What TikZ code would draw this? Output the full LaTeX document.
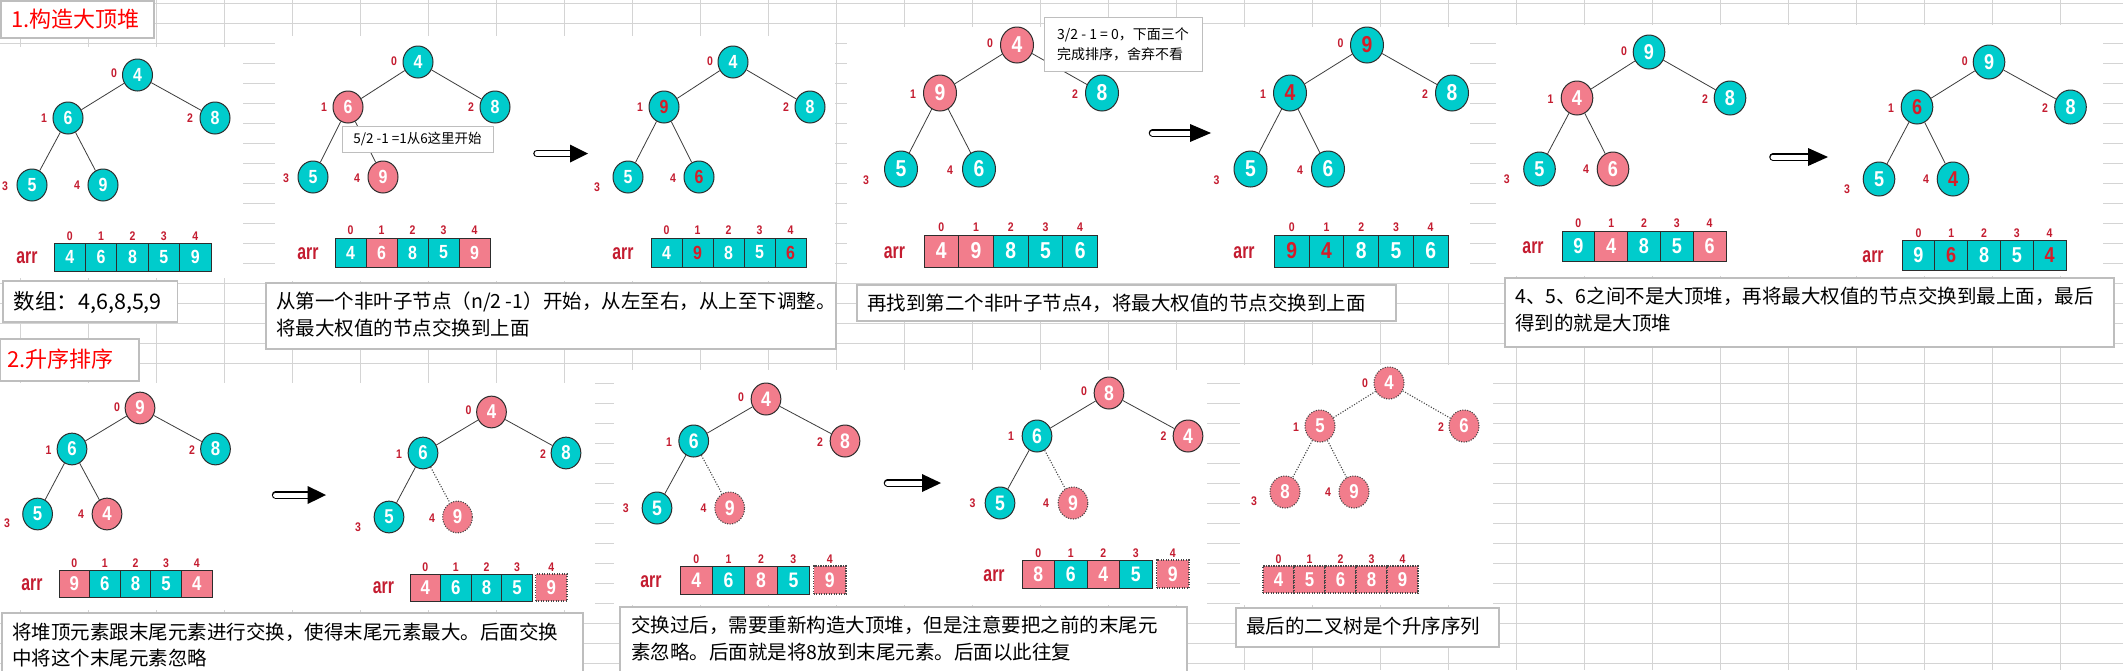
\documentclass[tikz,border=0pt]{standalone}
\usepackage{fontspec}
\setmainfont{Noto Sans CJK SC}
\newfontfamily\digfam{Liberation Sans}[FakeStretch=0.84]
\newfontfamily\arrfam{Liberation Sans}[FakeStretch=0.72]
\usetikzlibrary{shapes.geometric}
\definecolor{gridc}{RGB}{212,212,212}
\definecolor{tealc}{RGB}{0,204,204}
\definecolor{pinkc}{RGB}{242,125,140}
\definecolor{idxred}{RGB}{196,28,48}
\definecolor{digred}{RGB}{214,28,40}
\definecolor{boxgray}{RGB}{190,190,190}
\definecolor{nodeline}{RGB}{45,45,45}
\definecolor{edgec}{RGB}{60,60,60}
\definecolor{dotline}{RGB}{70,70,70}
\newcommand\digfont{\digfam\bfseries\fontsize{\dsz}{\dsz}\selectfont}
\def\nw{30pt}\def\nh{32pt}\def\dsz{19pt}\def\ch{28pt}
\tikzset{
  st/.code={\expandafter\pgfkeysalso\expandafter{#1}},
  gridline/.style={draw=gridc, line width=1pt},
  nbase/.style={ellipse, draw=nodeline, line width=1pt, inner sep=0pt,
    minimum width=\nw, minimum height=\nh, text=white, font=\digfont},
  nT/.style={nbase, fill=tealc},
  nTr/.style={nbase, fill=tealc, text=digred},
  nP/.style={nbase, fill=pinkc},
  nPd/.style={nbase, fill=pinkc, draw=dotline, line width=1.1pt, dash pattern=on 1.1pt off 1.4pt},
  cell/.style={rectangle, draw=nodeline, line width=1pt, inner sep=0pt,
    minimum height=\ch, text=white, font=\digfont},
  cT/.style={fill=tealc},
  cTr/.style={fill=tealc, text=digred},
  cP/.style={fill=pinkc},
  cPd/.style={fill=pinkc, draw=dotline, line width=1.1pt, dash pattern=on 1.1pt off 1.4pt},
  idx/.style={text=idxred, inner sep=0pt, font=\digfam\bfseries\fontsize{12.5pt}{12.5pt}\selectfont},
  arrlab/.style={text=idxred, inner sep=0pt, font=\arrfam\bfseries\fontsize{22pt}{22pt}\selectfont},
  edge/.style={draw=edgec, line width=0.8pt},
  edged/.style={draw=dotline, line width=1.1pt, dash pattern=on 1.1pt off 1.6pt},
  capbox/.style={draw=boxgray, line width=1.2pt, fill=white},
  titlebox/.style={draw=boxgray, line width=1.2pt, fill=white},
  captext/.style={anchor=west, inner sep=0pt, text=black, font=\fontsize{19.5pt}{19.5pt}\selectfont},
  titletext/.style={anchor=west, inner sep=0pt, text=red, font=\fontsize{22pt}{22pt}\selectfont},
  callout/.style={draw=boxgray, line width=1pt, fill=white, inner sep=0pt, text=black},
  imgbg/.style={fill=white},
}
% prefix, node list, label list
\newcommand\heaptree[3]{%
  \foreach \n/\px/\py/\s/\v in {#2} {\node[st=\s] (#1\n) at (\px,\py) {\v};}%
  \foreach \n/\px/\py in {#3} {\node[idx] (#1l\n) at (\px,\py) {\n};}%
}
% prefix, x0, cell width, y centre, y index, list value/style
\newcommand\cellrow[6]{%
  \foreach \v/\s [count=\i from 0] in {#6} {%
    \node[cell, st=\s, minimum width=#3pt] (#1c\i) at ({#2+(\i+0.5)*#3}, #4) {\v};
    \node[idx] (#1i\i) at ({#2+(\i+0.5)*#3}, #5) {\i};
  }%
}
% name, tail x, head base x, tip x, y
\newcommand\fatarrow[5]{%
  \coordinate (#1t) at (#2,#5);
  \coordinate (#1b) at (#3,#5);
  \coordinate (#1h) at (#4,#5);
  \draw[line width=1.3pt, double=white, double distance=5pt, line cap=round] (#1t) -- (#1b);
  \fill[black] ([yshift=9pt]#1b) -- (#1h) -- ([yshift=-9pt]#1b) -- cycle;
}
\begin{document}
\begin{tikzpicture}[x=1pt, y=-1pt]
\useasboundingbox (0,0) rectangle (2123,670);
\clip (0,0) rectangle (2123,670);
\fill[white] (0,0) rectangle (2123,670);
% spreadsheet grid
\foreach \k in {0,...,31} {\draw[gridline] ({20.3+68*\k},0) -- ({20.3+68*\k},670);}
\foreach \k in {0,...,33} {\draw[gridline] (0,{3.3+20*\k}) -- (2123,{3.3+20*\k});}
% pasted picture backgrounds
\fill[imgbg] (0,47) rectangle (243,278);
\fill[imgbg] (275,36) rectangle (835,281);
\fill[imgbg] (847,27) rectangle (1470,283);
\fill[imgbg] (1496,25) rectangle (2103,276);
\fill[imgbg] (0,383) rectangle (595,610);
\fill[imgbg] (614,370) rectangle (1207,605);
\fill[imgbg] (1240,365) rectangle (1493,605);
% titles
\draw[titlebox] (1,1) rectangle (154,38);
\node[titletext] (title1) at (11,19) {1.构造大顶堆};
\draw[titlebox] (0,339) rectangle (139,381);
\node[titletext] (title2) at (7,359) {2.升序排序};

% ---------- panel 1 / 2 ----------
\begin{scope}
\def\nw{30pt}\def\nh{32pt}\def\dsz{19pt}\def\ch{28pt}
\heaptree{A}{0/137.5/75/nT/4, 1/68/118/nT/6, 2/215/118/nT/8, 3/32/185/nT/5, 4/103/185/nT/9}
  {0/114/73, 1/44/118, 2/190/118, 3/5/186, 4/77/185}
\draw[edge] (A0)--(A1) (A0)--(A2) (A1)--(A3) (A1)--(A4);
\node[arrlab] (Aarr) at (27,258) {arr};
\cellrow{A}{54}{31.4}{257}{236}{4/cT,6/cT,8/cT,5/cT,9/cT}

\def\ch{29pt}
\heaptree{B}{0/418/62/nT/4, 1/348/107/nP/6, 2/495/107/nT/8, 3/313/177/nT/5, 4/383/177/nP/9}
  {0/394/61, 1/324/107, 2/471/107, 3/286/178, 4/357/178}
\draw[edge] (B0)--(B1) (B0)--(B2) (B1)--(B3) (B1)--(B4);
\node[callout, minimum width=151pt, minimum height=26pt, font=\fontsize{13.5pt}{13.5pt}\selectfont] (Bnote) at (417.5,139) {5/2 -1 =1从6这里开始};
\node[arrlab] (Barr) at (308,254) {arr};
\cellrow{B}{335}{31}{252.5}{230}{4/cT,6/cP,8/cT,5/cT,9/cP}

\fatarrow{arA}{537}{570}{588}{153.5}

\heaptree{C}{0/733/62/nT/4, 1/664/107/nTr/9, 2/810/107/nT/8, 3/628/177/nT/5, 4/699/177/nTr/6}
  {0/710/61, 1/640/107, 2/786/107, 3/597/187, 4/673/178}
\draw[edge] (C0)--(C1) (C0)--(C2) (C1)--(C3) (C1)--(C4);
\node[arrlab] (Carr) at (623,254) {arr};
\cellrow{C}{651}{31}{252.5}{230}{4/cT,9/cTr,8/cT,5/cT,6/cTr}
\end{scope}

% ---------- panel 3 ----------
\begin{scope}
\def\nw{33pt}\def\nh{36pt}\def\dsz{23pt}\def\ch{32pt}
\heaptree{D}{0/1017/45/nP/4, 1/940/93/nP/9, 2/1102/93/nT/8, 3/901/169/nT/5, 4/979/169/nT/6}
  {0/990/43, 1/913/94, 2/1075/94, 3/866/180, 4/950/170}
\draw[edge] (D0)--(D1) (D0)--(D2) (D1)--(D3) (D1)--(D4);
\node[callout, minimum width=158pt, minimum height=54pt, align=left, font=\fontsize{14pt}{20pt}\selectfont] (Dnote) at (1123,44) {3/2 - 1 = 0，下面三个\\完成排序，舍弃不看};
\node[arrlab] (Darr) at (894.5,253) {arr};
\cellrow{D}{924}{34.7}{251}{227}{4/cP,9/cP,8/cT,5/cT,6/cT}

\fatarrow{arB}{1152.5}{1190}{1211}{133}

\heaptree{E}{0/1367/45/nTr/9, 1/1290/93/nTr/4, 2/1452/93/nT/8, 3/1250.5/169/nT/5, 4/1328/169/nT/6}
  {0/1340.6/43, 1/1263/94, 2/1425/94, 3/1216.5/180, 4/1300/170}
\draw[edge] (E0)--(E1) (E0)--(E2) (E1)--(E3) (E1)--(E4);
\node[arrlab] (Earr) at (1244,253) {arr};
\cellrow{E}{1274.5}{34.7}{251}{227}{9/cTr,4/cTr,8/cT,5/cT,6/cT}
\end{scope}

% ---------- panel 4 ----------
\begin{scope}
\def\nw{31.6pt}\def\nh{34pt}\def\dsz{21.5pt}\def\ch{30pt}
\heaptree{F}{0/1649/52/nT/9, 1/1577/98/nP/4, 2/1730/98/nT/8, 3/1539.5/169/nT/5, 4/1613/169/nP/6}
  {0/1624/51, 1/1550.5/99, 2/1705/99, 3/1506.7/179, 4/1586/169}
\draw[edge] (F0)--(F1) (F0)--(F2) (F1)--(F3) (F1)--(F4);
\node[arrlab] (Farr) at (1533,248) {arr};
\cellrow{F}{1562}{32.8}{246}{223}{9/cT,4/cP,8/cT,5/cT,6/cP}

\fatarrow{arC}{1773}{1808}{1828}{157}

\heaptree{G}{0/1989/62/nT/9, 1/1917/107/nTr/6, 2/2070.5/107/nT/8, 3/1879/179/nT/5, 4/1953/179/nTr/4}
  {0/1964.7/61, 1/1891/108, 2/2045/108, 3/1847/189, 4/1926/179}
\draw[edge] (G0)--(G1) (G0)--(G2) (G1)--(G3) (G1)--(G4);
\node[arrlab] (Garr) at (1873,257) {arr};
\cellrow{G}{1902}{32.8}{255.5}{233}{9/cT,6/cTr,8/cT,5/cT,4/cTr}
\end{scope}

% ---------- panel 5 ----------
\begin{scope}
\def\nw{29.7pt}\def\nh{31.7pt}\def\dsz{20pt}\def\ch{27pt}
\heaptree{H}{0/140/408/nP/9, 1/72/449/nT/6, 2/215.5/449/nT/8, 3/37.6/514/nT/5, 4/107/514/nP/4}
  {0/117/407, 1/48.6/450, 2/192/450, 3/7/523, 4/81/514}
\draw[edge] (H0)--(H1) (H0)--(H2) (H1)--(H3) (H1)--(H4);
\node[arrlab] (Harr) at (32,585) {arr};
\cellrow{H}{59}{30.6}{584}{563}{9/cP,6/cT,8/cT,5/cT,4/cP}

\fatarrow{arD}{275.6}{307.6}{326}{495}

\heaptree{I}{0/491.5/412/nP/4, 1/423/453/nT/6, 2/566/453/nT/8, 3/389/517/nT/5, 4/457.5/517/nPd/9}
  {0/468.6/410, 1/399/454, 2/543/454, 3/358/527, 4/432/518}
\draw[edge] (I0)--(I1) (I0)--(I2) (I1)--(I3);
\draw[edged] (I1)--(I4);
\node[arrlab] (Iarr) at (383.5,588) {arr};
\cellrow{I}{410}{30.6}{587.5}{567}{4/cP,6/cT,8/cT,5/cT}
\node[cell, cPd, minimum width=31.2pt] (Ic4) at (551.4,587.5) {9};
\node[idx] (Ii4) at (551.4,567) {4};
\end{scope}

% ---------- panel 6 ----------
\begin{scope}
\def\nw{29.7pt}\def\nh{32pt}\def\dsz{21pt}\def\ch{28pt}
\heaptree{J}{0/766/399/nP/4, 1/693.7/441/nT/6, 2/845/441/nP/8, 3/657/508/nT/5, 4/729.7/508/nPd/9}
  {0/741/397, 1/669/442, 2/820/442, 3/625.7/508, 4/703.6/508}
\draw[edge] (J0)--(J1) (J0)--(J2) (J1)--(J3);
\draw[edged] (J1)--(J4);
\node[arrlab] (Jarr) at (651,582) {arr};
\cellrow{J}{680}{32.4}{580}{559}{4/cP,6/cT,8/cP,5/cT}
\node[cell, cPd, minimum width=32.5pt] (Jc4) at (829.75,580) {9};
\node[idx] (Ji4) at (829.75,559) {4};

\fatarrow{arE}{887.5}{922}{941}{483}

\heaptree{K}{0/1109/393/nP/8, 1/1037/436/nT/6, 2/1188/436/nP/4, 3/1000/503/nT/5, 4/1073/503/nPd/9}
  {0/1084/391, 1/1011/436, 2/1163.5/436, 3/972.5/503, 4/1046/503}
\draw[edge] (K0)--(K1) (K0)--(K2) (K1)--(K3);
\draw[edged] (K1)--(K4);
\node[arrlab] (Karr) at (994,576) {arr};
\cellrow{K}{1022}{32.5}{574}{553}{8/cP,6/cT,4/cP,5/cT}
\node[cell, cPd, minimum width=32.3pt] (Kc4) at (1172.85,574) {9};
\node[idx] (Ki4) at (1172.85,553) {4};
\end{scope}

% ---------- panel 7 ----------
\begin{scope}
\def\nw{30pt}\def\nh{32pt}\def\dsz{20pt}\def\ch{27pt}
\heaptree{L}{0/1389/383/nPd/4, 1/1320/426/nPd/5, 2/1464/426/nPd/6, 3/1285/492/nPd/8, 4/1354/492/nPd/9}
  {0/1365/383, 1/1296/427, 2/1441/427, 3/1254/501, 4/1328/492}
\draw[edged] (L0)--(L1) (L0)--(L2) (L1)--(L3) (L1)--(L4);
\cellrow{L}{1263}{31}{579.5}{559}{4/cPd,5/cPd,6/cPd,8/cPd,9/cPd}
\end{scope}

% ---------- captions ----------
\draw[capbox] (3,281) rectangle (177.5,322);
\node[captext, font=\fontsize{21.5pt}{21.5pt}\selectfont] (cap1) at (13.6,302) {数组：4,6,8,5,9};
\draw[capbox] (266,283) rectangle (836,349);
\node[captext] (cap2a) at (276,302) {从第一个非叶子节点（n/2 -1）开始，从左至右，从上至下调整。};
\node[captext] (cap2b) at (276,328) {将最大权值的节点交换到上面};
\draw[capbox] (857,285) rectangle (1396,321);
\node[captext] (cap3) at (867,303) {再找到第二个非叶子节点4，将最大权值的节点交换到上面};
\draw[capbox] (1505,278) rectangle (2114,347);
\node[captext] (cap4a) at (1515,296) {4、5、6之间不是大顶堆，再将最大权值的节点交换到最上面，最后};
\node[captext] (cap4b) at (1515,323) {得到的就是大顶堆};
\draw[capbox] (2,613) rectangle (583,690);
\node[captext] (cap5a) at (12,632) {将堆顶元素跟末尾元素进行交换，使得末尾元素最大。后面交换};
\node[captext] (cap5b) at (12,658) {中将这个末尾元素忽略};
\draw[capbox] (620,607) rectangle (1187,690);
\node[captext] (cap6a) at (631,625) {交换过后，需要重新构造大顶堆，但是注意要把之前的末尾元};
\node[captext] (cap6b) at (631,652) {素忽略。后面就是将8放到末尾元素。后面以此往复};
\draw[capbox] (1236,608) rectangle (1499,647);
\node[captext] (cap7) at (1246,626) {最后的二叉树是个升序序列};
\end{tikzpicture}
\end{document}
